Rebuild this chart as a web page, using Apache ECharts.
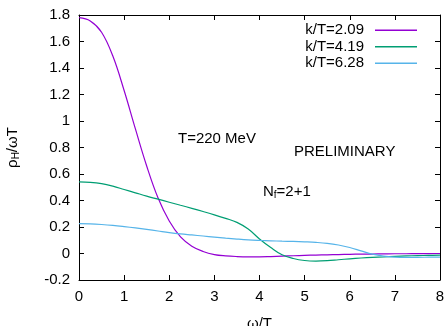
<!DOCTYPE html>
<html>
<head>
<meta charset="utf-8">
<script src="https://cdn.jsdelivr.net/npm/echarts@6/dist/echarts.min.js"></script>
<style>
  html, body { margin: 0; padding: 0; background: #fff; }
  #chart { width: 448px; height: 326px; }
</style>
</head>
<body>
<div id="chart"></div>
<script>
// omega/T grid the curves were read on (step 0.25)
const omega = [0, 0.25, 0.5, 0.75, 1, 1.25, 1.5, 1.75, 2, 2.25, 2.5, 2.75, 3, 3.25, 3.5, 3.75,
  4, 4.25, 4.5, 4.75, 5, 5.25, 5.5, 5.75, 6, 6.25, 6.5, 6.75, 7, 7.25, 7.5, 7.75, 8]
// rho_H / (omega T), one array per k/T
const k209 = [1.78, 1.755, 1.67, 1.49, 1.23, 0.94, 0.66, 0.42, 0.245, 0.125, 0.055, 0.015, -0.008, -0.018, -0.023, -0.025,
  -0.025, -0.023, -0.02, -0.017, -0.014, -0.012, -0.01, -0.008, -0.006, -0.005, -0.004, -0.003, -0.002, -0.002, -0.001, -0.001, 0]
const k419 = [0.54, 0.537, 0.527, 0.508, 0.483, 0.458, 0.433, 0.41, 0.387, 0.364, 0.341, 0.317, 0.292, 0.265, 0.235, 0.185,
  0.11, 0.045, -0.01, -0.038, -0.053, -0.057, -0.054, -0.047, -0.04, -0.034, -0.029, -0.025, -0.021, -0.018, -0.016, -0.014, -0.013]
const k628 = [0.226, 0.224, 0.219, 0.212, 0.203, 0.193, 0.182, 0.17, 0.158, 0.148, 0.14, 0.132, 0.124, 0.116, 0.109, 0.103,
  0.099, 0.096, 0.093, 0.091, 0.088, 0.084, 0.077, 0.064, 0.045, 0.02, -0.005, -0.02, -0.027, -0.029, -0.029, -0.028, -0.027]
const names = ['k/T=2.09', 'k/T=4.19', 'k/T=6.28']
const colors = ['#9400d3', '#009e73', '#56b4e9']

const font = 'Liberation Sans, Arial, Helvetica, sans-serif'
const pairs = arr => omega.map((w, i) => [w, arr[i]])

const chart = echarts.init(document.getElementById('chart'), null, { renderer: 'canvas' })

const axisCommon = {
  axisLine: { show: true, onZero: false, lineStyle: { color: '#000', width: 1 } },
  axisTick: { show: true, inside: true, length: 5, lineStyle: { color: '#000' } },
  splitLine: { show: false }
}

chart.setOption({
  animation: false,
  backgroundColor: '#fff',
  color: colors,
  textStyle: { fontFamily: font },
  grid: { left: 79, right: 8, top: 15, bottom: 46, outerBoundsMode: 'none', containLabel: false },
  legend: {
    orient: 'vertical',
    right: 26,
    top: 17,
    align: 'right',
    itemGap: 0,
    itemWidth: 42,
    itemHeight: 1.5,
    icon: 'rect',
    data: names,
    textStyle: { fontSize: 15, color: '#000', lineHeight: 16.5, padding: [0, 6, 0, 0], fontFamily: font }
  },
  xAxis: [
    Object.assign({}, axisCommon, {
      type: 'value', min: 0, max: 8, interval: 1,
      name: 'ω/T', nameLocation: 'middle', nameGap: 36,
      nameTextStyle: { fontSize: 15, color: '#000', fontFamily: font },
      axisLabel: { fontSize: 15, color: '#000', margin: 9, fontFamily: font }
    }),
    Object.assign({}, axisCommon, {
      type: 'value', min: 0, max: 8, interval: 1, position: 'top',
      axisLabel: { show: false }
    })
  ],
  yAxis: [
    Object.assign({}, axisCommon, {
      type: 'value', min: -0.2, max: 1.8, interval: 0.2,
      name: '{a|ρ}{s|H}{a|/ωT}', nameLocation: 'middle', nameGap: 58, nameRotate: 90,
      nameTextStyle: {
        color: '#000',
        rich: {
          a: { fontSize: 15, fontFamily: font, color: '#000' },
          s: { fontSize: 10, fontFamily: font, color: '#000', padding: [6, 0, 0, 0] }
        }
      },
      axisLabel: {
        fontSize: 15, color: '#000', margin: 9, fontFamily: font,
        formatter: v => String(+v.toFixed(1))
      }
    }),
    Object.assign({}, axisCommon, {
      type: 'value', min: -0.2, max: 1.8, interval: 0.2, position: 'right',
      axisLabel: { show: false }
    })
  ],
  graphic: [
    {
      type: 'text', left: 178, top: 131,
      style: { text: 'T=220 MeV', fontSize: 15, fontFamily: font, fill: '#000' }
    },
    {
      type: 'text', left: 294, top: 144,
      style: { text: 'PRELIMINARY', fontSize: 15, fontFamily: font, fill: '#000' }
    },
    {
      type: 'text', left: 263, top: 184,
      style: {
        text: '{a|N}{s|f}{a|=2+1}',
        rich: {
          a: { fontSize: 15, fontFamily: font, fill: '#000' },
          s: { fontSize: 10, fontFamily: font, fill: '#000', padding: [7, 0, 0, 0] }
        }
      }
    }
  ],
  series: [k209, k419, k628].map((arr, i) => ({
    name: names[i],
    type: 'line',
    smooth: 0.4,
    showSymbol: false,
    xAxisIndex: 0,
    yAxisIndex: 0,
    lineStyle: { width: 1.2, color: colors[i] },
    data: pairs(arr)
  }))
})
</script>
</body>
</html>
